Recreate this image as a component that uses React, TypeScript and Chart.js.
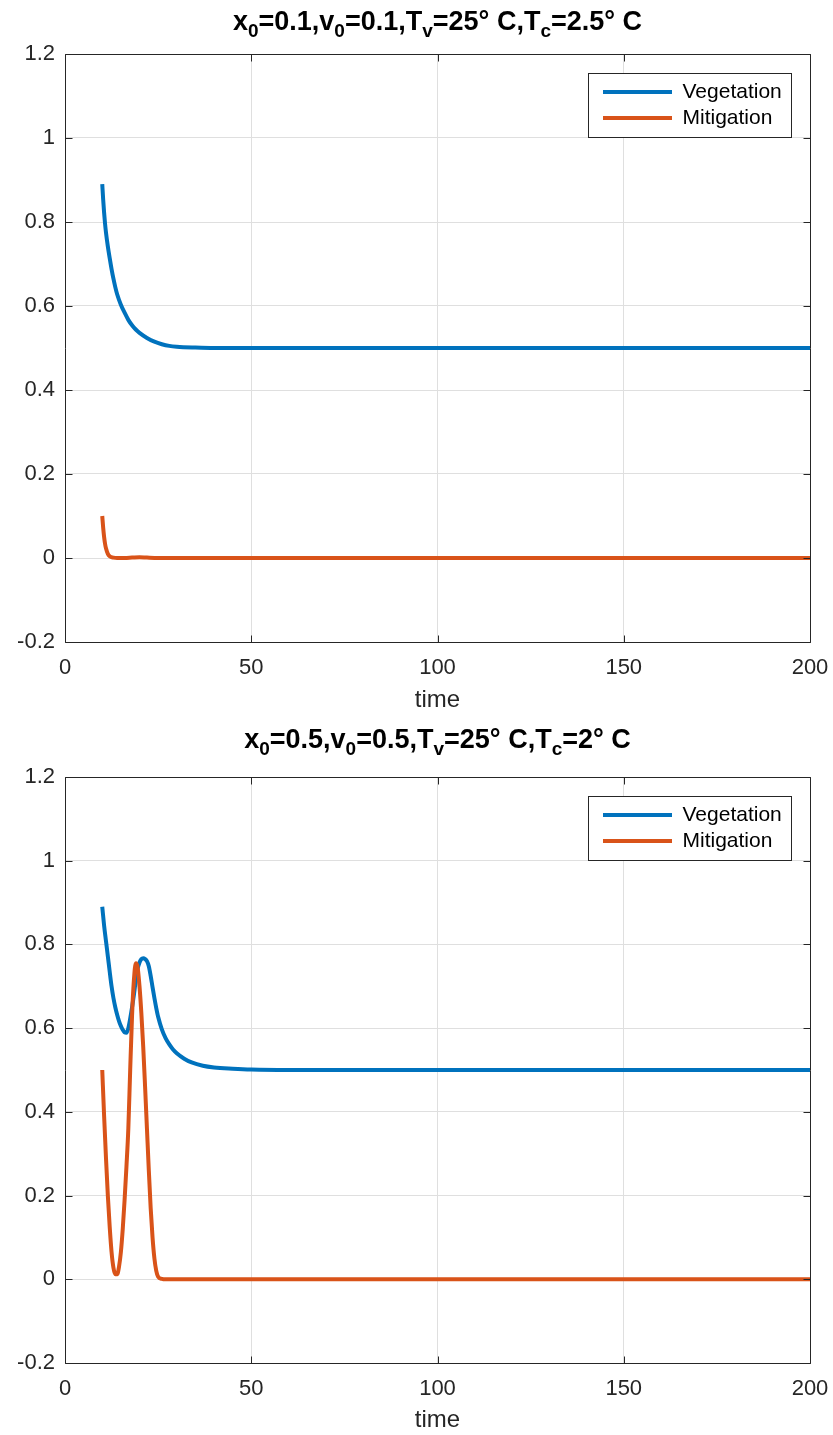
import React, { useEffect, useRef } from 'react';
import { Chart, registerables } from 'chart.js';

Chart.register(...registerables);

const FONT = '"Liberation Sans", Arial, Helvetica, sans-serif';
const BLUE = '#0072BD';
const ORANGE = '#D95319';
const AXIS = '#262626';
const GRID = '#dfdfdf';
const AREA_LEFT = 65;
const AREA_RIGHT = 810;
const W = 833;

const X_TICKS = [0, 50, 100, 150, 200];
const X_TICK_LABELS = ['0', '50', '100', '150', '200'];
const Y_TICKS = [-0.2, 0, 0.2, 0.4, 0.6, 0.8, 1, 1.2];
const Y_TICK_LABELS = ['-0.2', '0', '0.2', '0.4', '0.6', '0.8', '1', '1.2'];
const SERIES = ['Vegetation', 'Mitigation'];
const X_TITLE = 'time';

// [text, isSubscript]
const TOP_TITLE: [string, boolean][] = [
  ['x', false], ['0', true], ['=0.1,v', false], ['0', true], ['=0.1,T', false],
  ['v', true], ['=25° C,T', false], ['c', true], ['=2.5° C', false],
];
const BOTTOM_TITLE: [string, boolean][] = [
  ['x', false], ['0', true], ['=0.5,v', false], ['0', true], ['=0.5,T', false],
  ['v', true], ['=25° C,T', false], ['c', true], ['=2° C', false],
];

// Top panel: x0=0.1, v0=0.1
const TOP_VEG_T = [10, 10.25, 10.5, 10.75, 11, 11.5, 12, 12.5, 13, 13.5, 14, 15, 16, 17, 18, 19, 20, 22, 24, 26, 28, 30, 35, 40, 50, 100, 150, 200];
const TOP_VEG_V = [0.89, 0.853, 0.822, 0.796, 0.775, 0.742, 0.714, 0.688, 0.665, 0.645, 0.628, 0.603, 0.584, 0.567, 0.554, 0.544, 0.536, 0.524, 0.515, 0.509, 0.505, 0.503, 0.501, 0.5, 0.5, 0.5, 0.5, 0.5];
const TOP_MIT_T = [10, 10.25, 10.5, 10.75, 11, 11.5, 12, 13, 14, 16, 18, 20, 22, 25, 50, 100, 150, 200];
const TOP_MIT_V = [0.1, 0.072, 0.05, 0.034, 0.023, 0.01, 0.004, 0.001, 0, 0, 0.001, 0.002, 0.001, 0, 0, 0, 0, 0];

// Bottom panel: x0=0.5, v0=0.5
const BOT_VEG_T = [10, 10.5, 11, 11.5, 12, 12.5, 13, 13.5, 14, 14.5, 15, 15.5, 16, 16.5, 17, 17.5, 18, 18.5, 19, 19.5, 20, 20.5, 21, 21.5, 22, 22.5, 23, 23.5, 24, 24.5, 25, 26, 27, 28, 29, 30, 32, 34, 37, 40, 45, 50, 60, 100, 150, 200];
const BOT_VEG_V = [0.89, 0.845, 0.808, 0.772, 0.735, 0.7, 0.672, 0.65, 0.632, 0.617, 0.605, 0.596, 0.59, 0.589, 0.6, 0.623, 0.65, 0.68, 0.714, 0.742, 0.757, 0.765, 0.767, 0.765, 0.76, 0.748, 0.725, 0.698, 0.672, 0.648, 0.627, 0.597, 0.576, 0.561, 0.549, 0.54, 0.527, 0.518, 0.51, 0.506, 0.503, 0.501, 0.5, 0.5, 0.5, 0.5];
const BOT_MIT_T = [10, 10.5, 11, 11.5, 12, 12.5, 13, 13.5, 14, 14.5, 15, 15.5, 16, 16.5, 17, 17.5, 18, 18.5, 19, 19.5, 20, 20.5, 21, 21.5, 22, 22.5, 23, 23.5, 24, 24.5, 25, 26, 27, 50, 100, 150, 200];
const BOT_MIT_V = [0.5, 0.39, 0.29, 0.2, 0.125, 0.065, 0.028, 0.012, 0.012, 0.03, 0.065, 0.12, 0.19, 0.27, 0.36, 0.5, 0.63, 0.715, 0.755, 0.745, 0.7, 0.635, 0.555, 0.46, 0.36, 0.26, 0.17, 0.1, 0.05, 0.02, 0.006, 0.001, 0, 0, 0, 0, 0];

type Spec = {
  top: number; height: number; areaTop: number; areaBottom: number;
  titleBaseline: number; xTitlePad: number; title: [string, boolean][];
  vegT: number[]; vegV: number[]; mitT: number[]; mitV: number[];
};

const TOP_SPEC: Spec = {
  top: 0, height: 718, areaTop: 54, areaBottom: 642, titleBaseline: 30, xTitlePad: 3.5,
  title: TOP_TITLE, vegT: TOP_VEG_T, vegV: TOP_VEG_V, mitT: TOP_MIT_T, mitV: TOP_MIT_V,
};
const BOTTOM_SPEC: Spec = {
  top: 718, height: 717, areaTop: 59, areaBottom: 645, titleBaseline: 30, xTitlePad: 0.5,
  title: BOTTOM_TITLE, vegT: BOT_VEG_T, vegV: BOT_VEG_V, mitT: BOT_MIT_T, mitV: BOT_MIT_V,
};

const mathTitlePlugin = {
  id: 'mathTitle',
  afterDraw(chart: any, _args: any, opts: any) {
    const { ctx, chartArea: a } = chart;
    const segs: [string, boolean][] = opts.segments || [];
    const mainFont = `bold ${opts.size}px ${FONT}`;
    const subFont = `bold ${opts.subSize}px ${FONT}`;
    ctx.save();
    let total = 0;
    const widths = segs.map(([t, sub]) => {
      ctx.font = sub ? subFont : mainFont;
      const w = ctx.measureText(t).width;
      total += w;
      return w;
    });
    let x = (a.left + a.right) / 2 - total / 2;
    ctx.fillStyle = '#000';
    ctx.textBaseline = 'alphabetic';
    ctx.textAlign = 'left';
    segs.forEach(([t, sub], i) => {
      ctx.font = sub ? subFont : mainFont;
      ctx.fillText(t, x, opts.baseline + (sub ? opts.subDrop : 0));
      x += widths[i];
    });
    ctx.restore();
  },
};

const framePlugin = {
  id: 'frame',
  afterDraw(chart: any) {
    const { ctx, chartArea: a, scales } = chart;
    const L = 7;
    const al = (v: number) => Math.round(v) + 0.5;
    const l = al(a.left), r = al(a.right), t = al(a.top), b = al(a.bottom);
    ctx.save();
    ctx.strokeStyle = AXIS;
    ctx.lineWidth = 1;
    ctx.beginPath();
    ctx.rect(l, t, r - l, b - t);
    X_TICKS.forEach((v) => {
      const x = al(scales.x.getPixelForValue(v));
      ctx.moveTo(x, b); ctx.lineTo(x, b - L);
      ctx.moveTo(x, t); ctx.lineTo(x, t + L);
    });
    Y_TICKS.forEach((v) => {
      const y = al(scales.y.getPixelForValue(v));
      ctx.moveTo(l, y); ctx.lineTo(l + L, y);
      ctx.moveTo(r, y); ctx.lineTo(r - L, y);
    });
    ctx.stroke();
    ctx.restore();
  },
};

const legendFramePlugin = {
  id: 'legendFrame',
  afterLayout(chart: any) {
    const lg: any = chart.legend;
    if (!lg) return;
    const a = chart.chartArea;
    const box = { left: a.right - 222, right: a.right - 19, top: a.top + 19, bottom: a.top + 83 };
    lg.left = box.left + 10;
    lg.right = box.right;
    lg.top = box.top + 3.5;
    lg.bottom = box.bottom;
    lg.width = lg.right - lg.left;
    lg.height = lg.bottom - lg.top;
    lg.$frame = box;
    if (!lg.$wrapped) {
      const orig = lg.draw;
      lg.draw = function (area: any) {
        const f = this.$frame;
        const c = this.ctx;
        c.save();
        c.fillStyle = '#ffffff';
        c.fillRect(f.left, f.top, f.right - f.left, f.bottom - f.top);
        c.strokeStyle = AXIS;
        c.lineWidth = 1;
        c.strokeRect(Math.round(f.left) + 0.5, Math.round(f.top) + 0.5, Math.round(f.right - f.left), Math.round(f.bottom - f.top));
        c.restore();
        orig.call(this, area);
      };
      lg.$wrapped = true;
    }
  },
};

function makeConfig(p: Spec): any {
  const pts = (ts: number[], vs: number[]) => ts.map((t, i) => ({ x: t, y: vs[i] }));
  const tickFont = { family: FONT, size: 22 };
  return {
    type: 'line',
    data: {
      datasets: [
        {
          label: SERIES[0], data: pts(p.vegT, p.vegV), borderColor: BLUE, backgroundColor: BLUE,
          borderWidth: 4, pointRadius: 0, cubicInterpolationMode: 'monotone', fill: false, order: 1,
        },
        {
          label: SERIES[1], data: pts(p.mitT, p.mitV), borderColor: ORANGE, backgroundColor: ORANGE,
          borderWidth: 4, pointRadius: 0, cubicInterpolationMode: 'monotone', fill: false, order: 0,
        },
      ],
    },
    options: {
      animation: false,
      responsive: false,
      maintainAspectRatio: false,
      layout: { padding: { top: p.areaTop, right: W - AREA_RIGHT, bottom: 0, left: 0 } },
      scales: {
        x: {
          type: 'linear', min: 0, max: 200,
          afterBuildTicks: (s: any) => { s.ticks = X_TICKS.map((v) => ({ value: v })); },
          afterFit: (s: any) => { s.height = p.height - p.areaBottom; s.paddingLeft = 0; s.paddingRight = 0; },
          ticks: {
            callback: (v: number) => X_TICK_LABELS[X_TICKS.indexOf(v)] ?? '',
            font: tickFont, color: AXIS, padding: 13, maxRotation: 0, autoSkip: false,
          },
          grid: { color: GRID, drawTicks: false, lineWidth: 1 },
          border: { display: false },
          title: {
            display: true, text: X_TITLE, color: AXIS,
            font: { family: FONT, size: 24 }, padding: { top: 0, bottom: p.xTitlePad },
          },
        },
        y: {
          type: 'linear', min: -0.2, max: 1.2,
          afterBuildTicks: (s: any) => { s.ticks = Y_TICKS.map((v) => ({ value: v })); },
          afterFit: (s: any) => { s.width = AREA_LEFT; s.paddingTop = 0; s.paddingBottom = 0; },
          ticks: {
            callback: (v: number) => Y_TICK_LABELS[Y_TICKS.indexOf(v)] ?? '',
            font: tickFont, color: AXIS, padding: 10, autoSkip: false,
          },
          grid: { color: GRID, drawTicks: false, lineWidth: 1 },
          border: { display: false },
        },
      },
      plugins: {
        title: { display: false },
        tooltip: { enabled: false },
        legend: {
          display: true,
          position: 'chartArea',
          align: 'start',
          labels: {
            font: { family: FONT, size: 21 },
            color: '#000',
            boxWidth: 69,
            boxHeight: 4,
            padding: 5,
            generateLabels: (chart: any) => chart.data.datasets.map((ds: any, i: number) => ({
              text: ds.label, fillStyle: ds.borderColor, strokeStyle: ds.borderColor,
              lineWidth: 0, fontColor: '#000', hidden: false, datasetIndex: i,
            })),
          },
        },
        mathTitle: { segments: p.title, baseline: p.titleBaseline, size: 27, subSize: 19, subDrop: 7 },
      },
    },
    plugins: [legendFramePlugin, framePlugin, mathTitlePlugin],
  };
}

function Panel({ spec }: { spec: Spec }) {
  const ref = useRef<HTMLCanvasElement>(null);
  useEffect(() => {
    const chart = new Chart(ref.current as HTMLCanvasElement, makeConfig(spec));
    return () => chart.destroy();
  }, [spec]);
  return (
    <canvas
      ref={ref}
      width={W}
      height={spec.height}
      style={{ position: 'absolute', left: 0, top: spec.top, width: W, height: spec.height, display: 'block' }}
    />
  );
}

export default function App() {
  return (
    <div style={{ position: 'absolute', left: 0, top: 0, width: W, height: 1435, background: '#ffffff', overflow: 'hidden' }}>
      <Panel spec={TOP_SPEC} />
      <Panel spec={BOTTOM_SPEC} />
    </div>
  );
}
